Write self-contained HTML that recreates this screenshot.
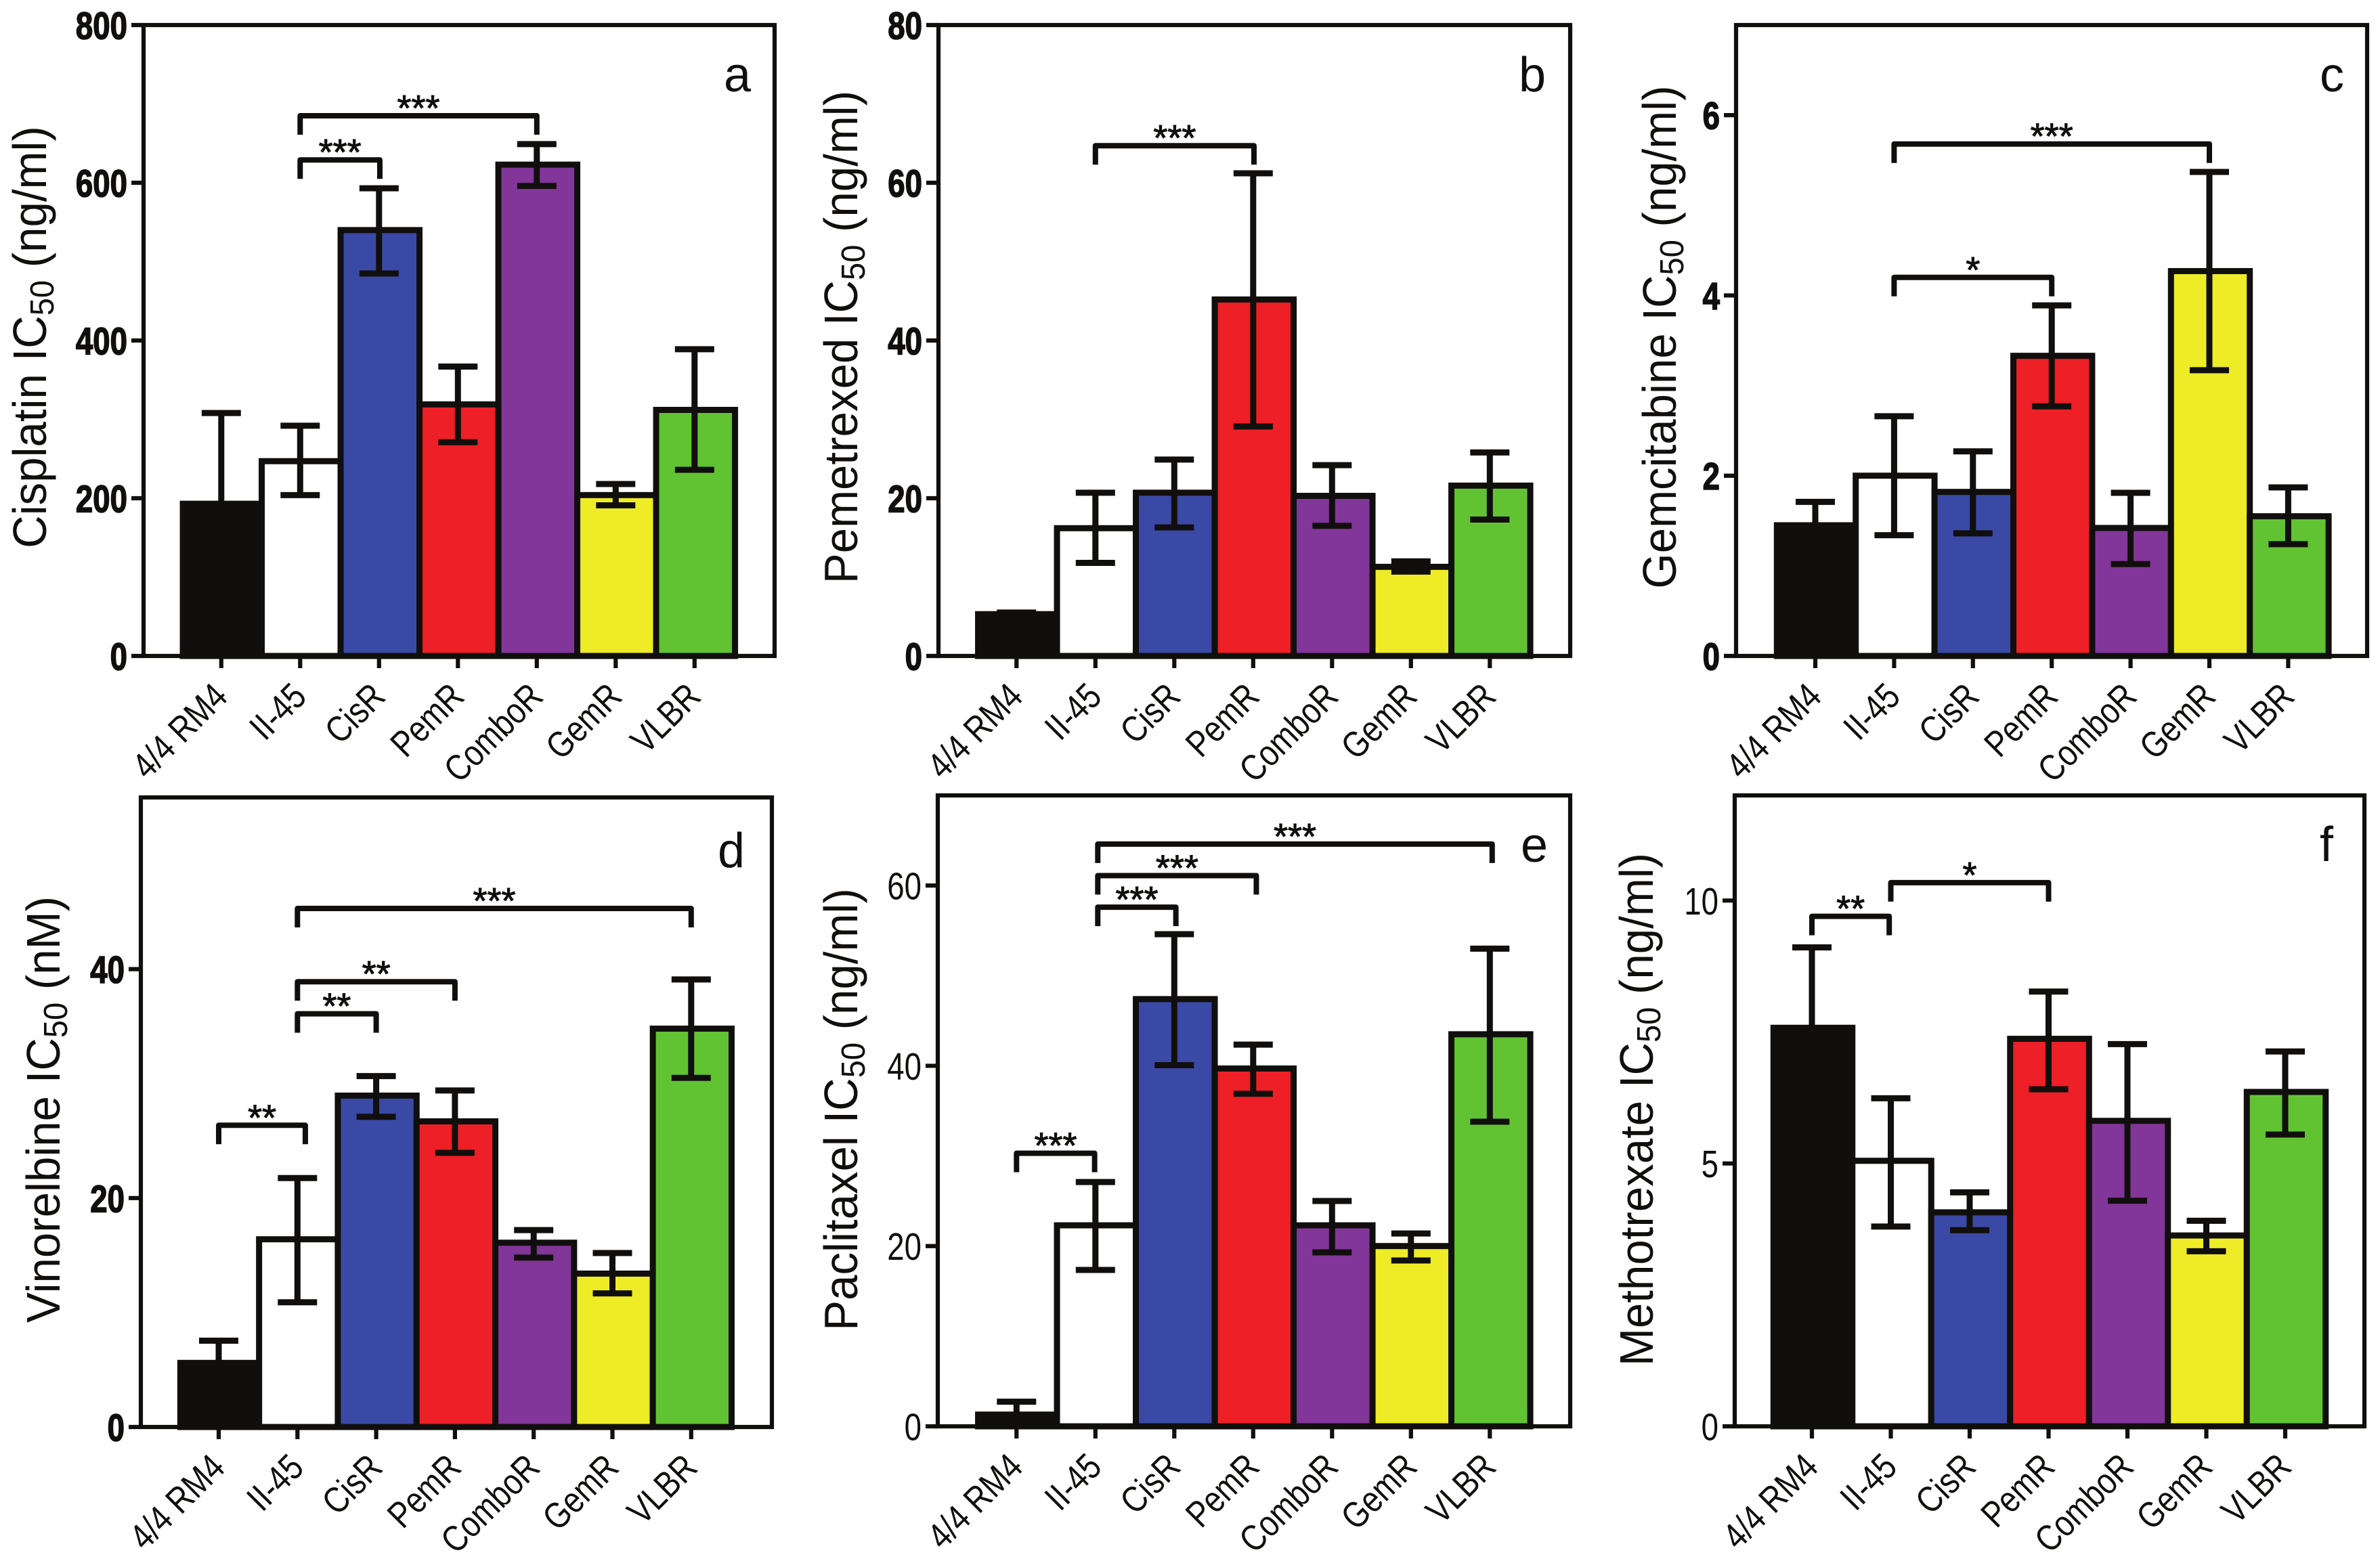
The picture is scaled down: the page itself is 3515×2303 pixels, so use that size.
<!DOCTYPE html>
<html lang="en">
<head>
<meta charset="utf-8">
<title>IC50 values across cell lines</title>
<style>
html,body{margin:0;padding:0;background:#fff;}
svg{display:block;}
text{font-family:"Liberation Sans",Arial,sans-serif;fill:#110f0d;}
</style>
</head>
<body>
<svg id="figure" xmlns="http://www.w3.org/2000/svg" width="3515" height="2303" viewBox="0 0 3515 2303"></svg>
<script>
const categories = ['4/4 RM4','II-45','CisR','PemR','ComboR','GemR','VLBR'];
const barColors = ['#110f0d','#ffffff','#3a49a5','#ee1f26','#823699','#eeec27','#62c332'];

const aMeans = [193,247,540,319,623,204,312];
const aHigh  = [308,292,593,367,649,218,389];
const aLow   = [80,204,485,271,596,191,236];
const aTicks = [0,200,400,600,800];
const aBrackets = [[1,2.01,629,'***'],[1,4,685,'***']];

const bMeans = [5.3,16.2,20.7,45.2,20.3,11.3,21.6];
const bHigh  = [5.5,20.7,24.9,61.2,24.2,12.0,25.8];
const bLow   = [5.1,11.8,16.3,29.1,16.5,10.7,17.3];
const bTicks = [0,20,40,60,80];
const bBrackets = [[1,3.01,64.7,'***']];

const cMeans = [1.45,2.0,1.82,3.33,1.42,4.27,1.55];
const cHigh  = [1.71,2.66,2.27,3.89,1.81,5.37,1.87];
const cLow   = [1.2,1.34,1.36,2.77,1.02,3.17,1.24];
const cTicks = [0,2,4,6];
const cBrackets = [[1,3,4.2,'*'],[1,5,5.68,'***']];

const dMeans = [5.6,16.4,28.95,26.7,16.1,13.4,34.8];
const dHigh  = [7.54,21.75,30.66,29.4,17.2,15.2,39.1];
const dLow   = [3.9,10.9,27.1,23.95,14.8,11.67,30.5];
const dTicks = [0,20,40];
const dBrackets = [[0,1.1,26.36,'**'],[1,2,36.1,'**'],[1,3,38.9,'**'],[1,6,45.3,'***']];

const eMeans = [1.3,22.3,47.4,39.7,22.3,20,43.5];
const eHigh  = [2.73,27.1,54.6,42.35,25,21.4,53];
const eLow   = [0.2,17.35,40.07,36.9,19.3,18.4,33.8];
const eTicks = [0,20,40,60];
const eBrackets = [[0,0.99,30.3,'***'],[1.03,2.02,57.6,'***'],[1.03,3.04,61.1,'***'],[1.03,6.03,64.6,'***']];

const fMeans = [7.58,5.05,4.07,7.37,5.81,3.63,6.36];
const fHigh  = [9.11,6.24,4.45,8.27,7.27,3.91,7.13];
const fLow   = [6.05,3.8,3.73,6.41,4.29,3.33,5.55];
const fTicks = [0,5,10];
const fBrackets = [[0,0.98,9.7,'**'],[1,3,10.34,'*']];

const NS = 'http://www.w3.org/2000/svg';
const INK = '#110f0d';
const figure = document.getElementById('figure');

function make(tag, parent, attrs) {
  const node = document.createElementNS(NS, tag);
  for (const key in attrs) node.setAttribute(key, attrs[key]);
  parent.appendChild(node);
  return node;
}

function drawPanel(opts, means, high, low, ticks, brackets) {
  const g = make('g', figure, {});
  
  

  const y = v => opts.bottom - (v / opts.max) * (opts.bottom - opts.top);
  const x = c => opts.first + c * opts.step;

  means.forEach((m, i) => {
    const bar = make('rect', g, {
      x: x(i) - opts.step / 2 + 1.5, y: y(m), width: opts.step, height: opts.bottom - y(m),
      fill: barColors[i], stroke: INK, 'stroke-width': 9
    });
    
    
  });

  means.forEach((m, i) => {
    const err = make('path', g, {
      d: 'M' + x(i) + ' ' + y(high[i]) + 'V' + y(low[i]) +
         'M' + (x(i) - 29) + ' ' + y(high[i]) + 'H' + (x(i) + 29) +
         'M' + (x(i) - 29) + ' ' + y(low[i]) + 'H' + (x(i) + 29),
      fill: 'none', stroke: INK, 'stroke-width': 9
    });
    
    
  });

  const frame = make('rect', g, {
    x: opts.left, y: opts.top, width: opts.right - opts.left, height: opts.bottom - opts.top,
    fill: 'none', stroke: INK, 'stroke-width': 6.2
  });
  
  

  ticks.forEach(t => {
    const tick = make('line', g, {
      x1: opts.left - 18, x2: opts.left, y1: y(t), y2: y(t), stroke: INK, 'stroke-width': 6.2
    });
    
    
    const label = make('text', g, {
      transform: 'translate(' + (opts.left - 24) + ',' + y(t) + ') scale(0.8,1)',
      'text-anchor': 'end', dy: '0.36em', 'font-size': 57, 'font-weight': opts.tickWeight,
      stroke: opts.tickWeight === 'bold' ? INK : 'none', 'stroke-width': 1.6
    });
    label.textContent = t;
    
    
  });

  categories.forEach((name, i) => {
    const tick = make('line', g, {
      x1: x(i), x2: x(i), y1: opts.bottom, y2: opts.bottom + 18, stroke: INK, 'stroke-width': 6.2
    });
    
    
    const label = make('text', g, {
      transform: 'translate(' + (x(i) + 12) + ',' + (opts.bottom + 63) + ') rotate(-45) scale(0.84,1)',
      'text-anchor': 'end', 'font-size': 54
    });
    label.textContent = name;
    
    
  });

  brackets.forEach(b => {
    const x1 = x(b[0]), x2 = x(b[1]), yy = y(b[2]);
    const br = make('path', g, {
      d: 'M' + x1 + ' ' + (yy + 28) + 'V' + yy + 'H' + x2 + 'V' + (yy + 28),
      fill: 'none', stroke: INK, 'stroke-width': 8, 'stroke-linejoin': 'round'
    });
    
    
    const stars = make('text', g, {
      x: (x1 + x2) / 2, y: yy + 7, 'text-anchor': 'middle', 'font-size': 54,
      stroke: INK, 'stroke-width': 1
    });
    stars.textContent = b[3];
    
    
  });

  const title = make('text', g, {
    transform: 'translate(' + opts.titleX + ',' + opts.titleY + ') rotate(-90) scale(0.96,1)',
    'text-anchor': 'middle', 'font-size': 70
  });
  
  
  const t1 = make('tspan', title, {});
  t1.textContent = opts.drug + ' IC';
  const t2 = make('tspan', title, { 'font-size': 49, dy: 11 });
  t2.textContent = '50';
  const t3 = make('tspan', title, { dy: -11 });
  t3.textContent = ' ' + opts.unit;

  const letter = make('text', g, {
    x: opts.letterX, y: opts.letterY, 'text-anchor': 'middle', 'font-size': 72
  });
  letter.textContent = opts.letter;
  
  
}

drawPanel({letter:'a',drug:'Cisplatin',unit:'(ng/ml)',left:212,right:1144,top:37,bottom:969,max:800,first:326.8,step:116.5,titleX:68,titleY:498,letterX:1089,letterY:135,tickWeight:'bold'}, aMeans, aHigh, aLow, aTicks, aBrackets);
drawPanel({letter:'b',drug:'Pemetrexed',unit:'(ng/ml)',left:1386,right:2319,top:37,bottom:969,max:80,first:1501.3,step:116.5,titleX:1266,titleY:498,letterX:2263,letterY:135,tickWeight:'bold'}, bMeans, bHigh, bLow, bTicks, bBrackets);
drawPanel({letter:'c',drug:'Gemcitabine',unit:'(ng/ml)',left:2564,right:3496,top:37,bottom:969,max:7,first:2681,step:116.4,titleX:2475,titleY:498,letterX:3444,letterY:135,tickWeight:'bold'}, cMeans, cHigh, cLow, cTicks, cBrackets);
drawPanel({letter:'d',drug:'Vinorelbine',unit:'(nM)',left:208,right:1140,top:1178,bottom:2108,max:55,first:323,step:116.3,titleX:88,titleY:1639,letterX:1080,letterY:1281,tickWeight:'bold'}, dMeans, dHigh, dLow, dTicks, dBrackets);
drawPanel({letter:'e',drug:'Paclitaxel',unit:'(ng/ml)',left:1385,right:2319,top:1175,bottom:2107,max:70,first:1501.3,step:116.5,titleX:1266,titleY:1639,letterX:2266,letterY:1273,tickWeight:'normal'}, eMeans, eHigh, eLow, eTicks, eBrackets);
drawPanel({letter:'f',drug:'Methotrexate',unit:'(ng/ml)',left:2562,right:3492,top:1175,bottom:2107,max:12,first:2676,step:116.5,titleX:2441,titleY:1639,letterX:3436,letterY:1272,tickWeight:'normal'}, fMeans, fHigh, fLow, fTicks, fBrackets);
</script>
</body>
</html>
